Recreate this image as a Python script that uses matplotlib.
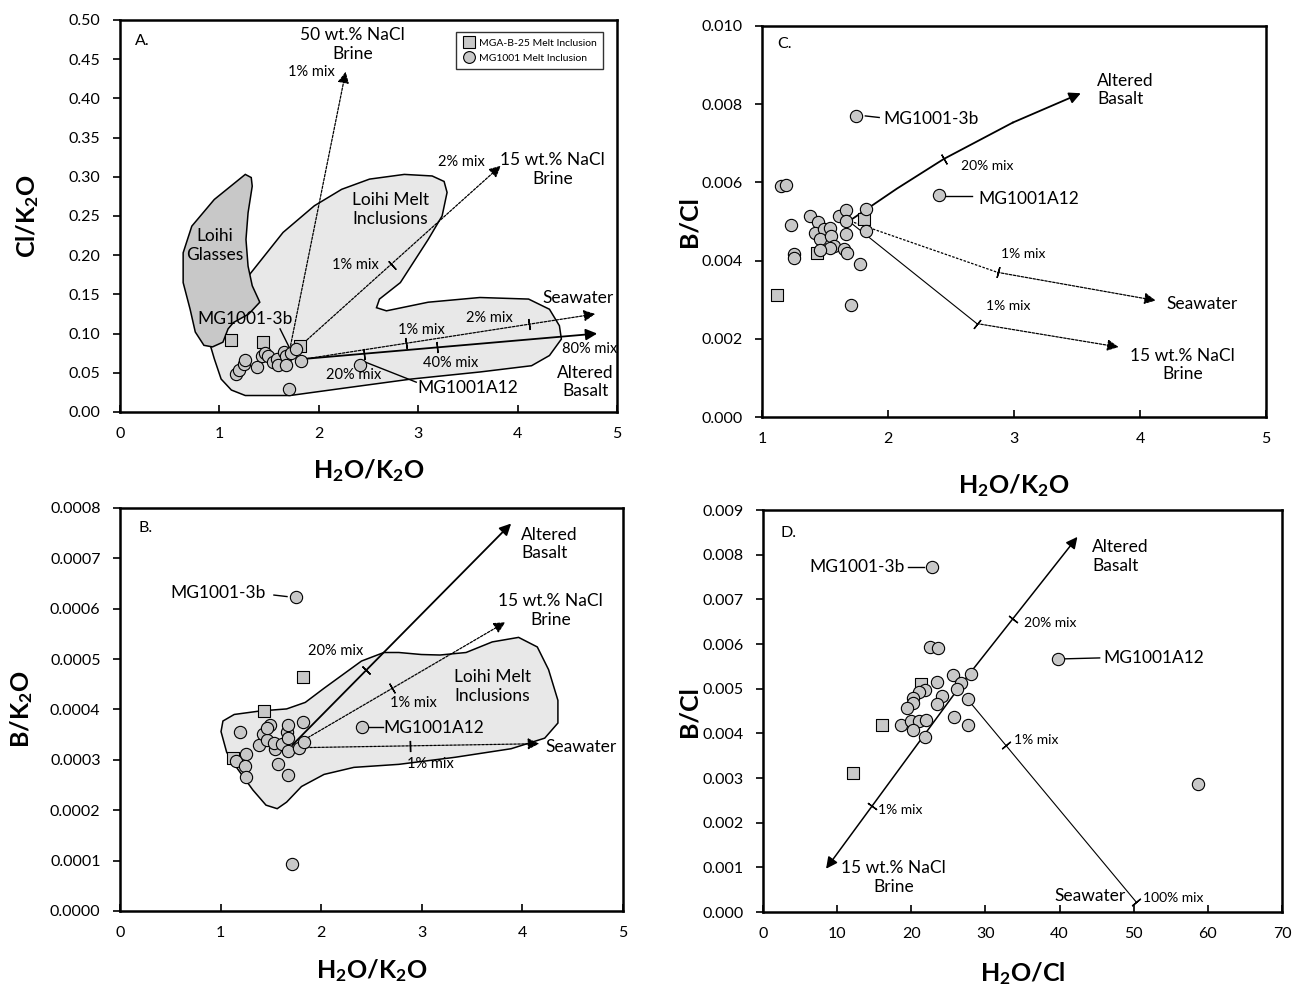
import math
import matplotlib
matplotlib.use("Agg")
import matplotlib.pyplot as plt
from matplotlib.patches import Polygon
from matplotlib.lines import Line2D

plt.rcParams['font.family'] = ['Lato', 'DejaVu Sans']
plt.rcParams['mathtext.default'] = 'regular'

# ---------------- panel A : Cl/K2O vs H2O/K2O ----------------
a_sq_x = [1.12, 1.435, 1.81]
a_sq_y = [0.092, 0.089, 0.084]
a_ci_x = [1.17, 1.20, 1.25, 1.26, 1.375, 1.425, 1.46, 1.49, 1.54, 1.58, 1.59,
          1.65, 1.67, 1.67, 1.72, 1.77, 1.82, 2.41, 1.70]
a_ci_y = [0.049, 0.053, 0.061, 0.066, 0.058, 0.071, 0.075, 0.072, 0.064, 0.068, 0.060,
          0.077, 0.071, 0.060, 0.075, 0.080, 0.065, 0.060, 0.029]
a_glass = [(1.26, 0.303), (0.948, 0.271), (0.722, 0.237), (0.635, 0.203), (0.635, 0.165),
           (0.705, 0.131), (0.757, 0.102), (0.844, 0.085), (0.93, 0.083), (1.035, 0.089),
           (1.087, 0.106), (1.14, 0.114), (1.295, 0.125), (1.406, 0.140), (1.33, 0.161),
           (1.288, 0.186), (1.267, 0.220), (1.288, 0.254), (1.33, 0.288), (1.32, 0.299)]
a_melt = [(0.913, 0.083), (0.948, 0.068), (1.017, 0.042), (1.12, 0.028), (1.26, 0.021),
          (1.71, 0.021), (2.23, 0.030), (2.93, 0.042), (3.62, 0.051), (4.14, 0.059),
          (4.32, 0.072), (4.44, 0.093), (4.42, 0.110), (4.32, 0.131), (4.11, 0.144),
          (3.62, 0.146), (3.10, 0.140), (2.68, 0.129), (2.58, 0.133), (2.61, 0.144),
          (2.82, 0.165), (3.10, 0.220), (3.24, 0.250), (3.29, 0.280), (3.26, 0.294),
          (3.14, 0.301), (2.86, 0.303), (2.51, 0.297), (2.23, 0.284), (1.955, 0.263),
          (1.64, 0.229), (1.295, 0.174), (1.19, 0.144), (0.98, 0.102)]
a_brine50 = ([1.70, 2.27], [0.075, 0.434])
a_brine15 = ([1.82, 3.83], [0.085, 0.314])
a_brine15_ticks = [(2.74, 0.188)]
a_sea = ([1.88, 4.78], [0.068, 0.125])
a_sea_ticks = [(2.875, 0.0877), (4.11, 0.1118)]
a_bas = ([1.88, 4.80], [0.068, 0.100])
a_bas_ticks = [(2.45, 0.0742), (3.19, 0.0824)]

# ---------------- panel C : B/Cl vs H2O/K2O ----------------
c_sq_x = [1.12, 1.44, 1.81]
c_sq_y = [0.00311, 0.0042, 0.00507]
c_ci_x = [1.744, 1.149, 1.193, 1.232, 1.253, 1.253, 1.378, 1.446, 1.417, 1.491, 1.461,
          1.536, 1.55, 1.571, 1.542, 1.461, 1.61, 1.67, 1.664, 1.67, 1.649, 1.676,
          1.78, 1.824, 1.824, 1.708, 2.405]
c_ci_y = [0.00771, 0.0059, 0.00593, 0.00491, 0.00418, 0.00407, 0.00515, 0.00498, 0.00471,
          0.0048, 0.00456, 0.00484, 0.00462, 0.00437, 0.00433, 0.00428, 0.00514, 0.00529,
          0.00501, 0.00467, 0.0043, 0.0042, 0.00392, 0.00532, 0.00477, 0.00286, 0.00567]
c_bas = ([1.70, 2.07, 2.443, 2.99, 3.53], [0.00503, 0.00584, 0.0066, 0.00753, 0.00828])
c_bas_ticks = [(2.443, 0.0066)]
c_sea = ([1.70, 2.869, 4.125], [0.00501, 0.0037, 0.00298])
c_sea_ticks = [(2.869, 0.0037)]
c_brine_a = ([1.70, 2.705], [0.00498, 0.00239])
c_brine_b = ([2.705, 3.83], [0.00239, 0.00179])
c_brine_ticks = [(2.705, 0.00239)]

# ---------------- panel B : B/K2O vs H2O/K2O ----------------
b_sq_x = [1.12, 1.436, 1.815]
b_sq_y = [0.000303, 0.000397, 0.000465]
b_ci_x = [1.749, 1.194, 1.15, 1.257, 1.239, 1.257, 1.384, 1.421, 1.462, 1.492, 1.458,
          1.544, 1.533, 1.611, 1.57, 1.655, 1.674, 1.667, 1.674, 1.778, 1.823, 1.83,
          1.674, 1.711, 2.41]
b_ci_y = [0.000624, 0.000355, 0.000297, 0.000311, 0.000287, 0.000266, 0.00033, 0.000351,
          0.000339, 0.000369, 0.000363, 0.000322, 0.000334, 0.000332, 0.000291, 0.000355,
          0.00037, 0.000317, 0.000344, 0.000324, 0.000375, 0.000336, 0.000269, 0.0000935,
          0.000365]
b_melt = [(1.023, 0.000377), (1.004, 0.000356), (1.06, 0.000315), (1.172, 0.000281),
          (1.321, 0.000240), (1.451, 0.000210), (1.5625, 0.000203), (1.656, 0.000216),
          (1.804, 0.000247), (2.028, 0.000271), (2.325, 0.000285), (2.772, 0.000291),
          (3.33, 0.000305), (3.888, 0.000322), (4.222, 0.000343), (4.353, 0.000373),
          (4.353, 0.000418), (4.26, 0.000479), (4.148, 0.000524), (3.962, 0.000543),
          (3.70, 0.000534), (3.44, 0.000513), (3.18, 0.000508), (2.995, 0.000509),
          (2.772, 0.000513), (2.623, 0.000513), (2.40, 0.000496), (2.214, 0.000469),
          (2.028, 0.000442), (1.842, 0.000414), (1.656, 0.000401), (1.395, 0.000397),
          (1.135, 0.000390)]
b_bas = ([1.711, 3.888], [0.000329, 0.000769])
b_bas_ticks = [(2.444, 0.000478)]
b_brine = ([1.73, 3.83], [0.000328, 0.000573])
b_brine_ticks = [(2.708, 0.000442)]
b_sea = ([1.767, 4.167], [0.000324, 0.000332])
b_sea_ticks = [(2.883, 0.000328)]

# ---------------- panel D : B/Cl vs H2O/Cl ----------------
d_sq_x = [12.1, 16.1, 21.3]
d_sq_y = [0.00311, 0.00419, 0.0051]
d_ci_x = [22.8, 22.5, 23.66, 25.58, 28.0, 26.7, 26.1, 27.7, 23.45, 21.9, 21.1, 20.2, 20.25,
          19.35, 24.16, 23.4, 18.6, 20.0, 21.0, 22.0, 20.26, 21.8, 25.7, 27.6, 39.8, 58.6]
d_ci_y = [0.00772, 0.00593, 0.00591, 0.0053, 0.00534, 0.00513, 0.00499, 0.00476, 0.00516,
          0.00498, 0.00493, 0.0048, 0.00469, 0.00457, 0.00484, 0.00466, 0.00418, 0.00427,
          0.00428, 0.00431, 0.00407, 0.00392, 0.00437, 0.00419, 0.00567, 0.00287]
d_bas = ([27.2, 42.4], [0.0052, 0.0084])
d_bas_ticks = [(33.7, 0.00657)]
d_brine = ([27.2, 8.5], [0.0052, 0.00097])
d_brine_ticks = [(14.7, 0.00237)]
d_sea = ([27.4, 50.35], [0.0048, 0.00022])
d_sea_ticks = [(32.7, 0.00373), (50.35, 0.00022)]

GREY = '#c8c8c8'
LIGHT = '#e8e8e8'
DOT = (0, (2, 1.2))


def frame(ax, xlim, ylim, yticks, yfmt, xticks):
    ax.set_xlim(*xlim)
    ax.set_ylim(*ylim)
    ax.set_yticks(yticks)
    ax.set_yticklabels([yfmt % v for v in yticks])
    ax.set_xticks(xticks)
    ax.set_xticklabels([str(v) for v in xticks])
    for s in ax.spines.values():
        s.set_linewidth(1.8)
    ax.tick_params(axis='y', direction='out', length=5, width=1.2, labelsize=11.5, pad=9)
    ax.tick_params(axis='x', direction='in', length=5, width=1.2, labelsize=11.5, pad=11)


def points(ax, sx, sy, cx, cy):
    ax.scatter(sx, sy, marker='s', s=80, facecolor=GREY, edgecolor='k', linewidth=0.8, zorder=4)
    ax.scatter(cx, cy, marker='o', s=78, facecolor=GREY, edgecolor='k', linewidth=0.8, zorder=5)


def arrow_line(ax, xs, ys, ls='-', lw=1.0, head=True):
    if head:
        if len(xs) > 2:
            ax.plot(xs[:-1], ys[:-1], color='k', ls=ls, lw=lw, zorder=3)
        ax.annotate('', xy=(xs[-1], ys[-1]), xytext=(xs[-2], ys[-2]), zorder=3,
                    arrowprops=dict(arrowstyle='-|>', color='k', lw=lw, ls=ls,
                                    mutation_scale=17, shrinkA=0, shrinkB=0))
    else:
        ax.plot(xs, ys, color='k', ls=ls, lw=lw, zorder=3)


def ticks_on(ax, line, marks):
    xs, ys = line
    p0 = ax.transData.transform((xs[0], ys[0]))
    p1 = ax.transData.transform((xs[-1], ys[-1]))
    ang = math.degrees(math.atan2(p1[1] - p0[1], p1[0] - p0[0]))
    for mx, my in marks:
        ax.plot([mx], [my], marker=(2, 2, ang), ms=8, mew=1.0, color='k', zorder=3)


def leader(ax, xs, ys):
    ax.plot(xs, ys, color='k', lw=1.0, zorder=3)


fig = plt.figure(figsize=(12.92, 9.92), dpi=100)
axA = fig.add_axes([0.0929, 0.5847, 0.3847, 0.3952])
axC = fig.add_axes([0.5898, 0.5796, 0.3901, 0.3942])
axB = fig.add_axes([0.0929, 0.0817, 0.3893, 0.4063])
axD = fig.add_axes([0.5906, 0.0806, 0.4017, 0.4052])

lab = dict(fontsize=18, fontweight='bold')
big = 12.5
small = 10.5
tiny = 10

# ---- A ----
frame(axA, (0, 5), (0, 0.5), [i * 0.05 for i in range(11)], '%.2f', [0, 1, 2, 3, 4, 5])
axA.add_patch(Polygon(a_melt, closed=True, facecolor=LIGHT, edgecolor='k', lw=1.1, zorder=1))
axA.add_patch(Polygon(a_glass, closed=True, facecolor=GREY, edgecolor='k', lw=1.1, zorder=1.5))
arrow_line(axA, *a_brine50, ls=DOT, lw=0.9)
arrow_line(axA, *a_brine15, ls=DOT, lw=0.9)
arrow_line(axA, *a_sea, ls=DOT, lw=0.9)
arrow_line(axA, *a_bas, ls='-', lw=1.3)
ticks_on(axA, a_brine15, a_brine15_ticks)
ticks_on(axA, a_sea, a_sea_ticks)
ticks_on(axA, a_bas, a_bas_ticks)
leader(axA, [2.46, 2.98], [0.064, 0.038])
leader(axA, [1.61, 1.70], [0.106, 0.083])
points(axA, a_sq_x, a_sq_y, a_ci_x, a_ci_y)
axA.text(0.15, 0.473, 'A.', fontsize=11.5, va='center')
axA.text(2.34, 0.469, '50 wt.% NaCl\nBrine', fontsize=big, ha='center', va='center', linespacing=1.2)
axA.text(1.92, 0.433, '1% mix', fontsize=small, ha='center', va='center')
axA.text(3.43, 0.319, '2% mix', fontsize=small, ha='center', va='center')
axA.text(4.35, 0.309, '15 wt.% NaCl\nBrine', fontsize=big, ha='center', va='center', linespacing=1.2)
axA.text(2.72, 0.258, 'Loihi Melt\nInclusions', fontsize=big, ha='center', va='center', linespacing=1.2)
axA.text(0.95, 0.212, 'Loihi\nGlasses', fontsize=big, ha='center', va='center', linespacing=1.2)
axA.text(2.37, 0.188, '1% mix', fontsize=small, ha='center', va='center')
axA.text(4.61, 0.145, 'Seawater', fontsize=big, ha='center', va='center')
axA.text(3.72, 0.120, '2% mix', fontsize=small, ha='center', va='center')
axA.text(3.03, 0.104, '1% mix', fontsize=small, ha='center', va='center')
axA.text(3.33, 0.063, '40% mix', fontsize=small, ha='center', va='center')
axA.text(2.35, 0.047, '20% mix', fontsize=small, ha='center', va='center')
axA.text(4.72, 0.080, '80% mix', fontsize=small, ha='center', va='center')
axA.text(4.68, 0.038, 'Altered\nBasalt', fontsize=big, ha='center', va='center', linespacing=1.2)
axA.text(3.5, 0.030, 'MG1001A12', fontsize=big, ha='center', va='center')
axA.text(1.26, 0.119, 'MG1001-3b', fontsize=big, ha='center', va='center')
hs = [Line2D([], [], marker='s', ls='', ms=8.5, mfc=GREY, mec='k', mew=0.8),
      Line2D([], [], marker='o', ls='', ms=8.5, mfc=GREY, mec='k', mew=0.8)]
leg = axA.legend(hs, ['MGA-B-25 Melt Inclusion', 'MG1001 Melt Inclusion'], loc='upper right',
                 bbox_to_anchor=(0.983, 0.982), fontsize=7.5, frameon=True, fancybox=False,
                 handletextpad=0.4, borderpad=0.6, labelspacing=0.55, handlelength=1.2)
leg.get_frame().set_edgecolor('k')
leg.get_frame().set_linewidth(1.0)
axA.set_ylabel('Cl/K$_2$O', **lab)
axA.set_xlabel('H$_2$O/K$_2$O', **lab)
axA.yaxis.set_label_coords(-0.16, 0.5)
axA.xaxis.set_label_coords(0.5, -0.115)

# ---- C ----
frame(axC, (1, 5), (0, 0.010), [i * 0.002 for i in range(6)], '%.3f', [1, 2, 3, 4, 5])
arrow_line(axC, *c_bas, ls='-', lw=1.3)
arrow_line(axC, *c_sea, ls=DOT, lw=0.9)
arrow_line(axC, *c_brine_a, ls='-', lw=0.8, head=False)
arrow_line(axC, *c_brine_b, ls=DOT, lw=0.9)
ticks_on(axC, ([2.07, 2.99], [0.00584, 0.00753]), c_bas_ticks)
ticks_on(axC, c_sea, c_sea_ticks)
ticks_on(axC, c_brine_a, c_brine_ticks)
leader(axC, [1.82, 1.93], [0.00770, 0.00766])
leader(axC, [2.46, 2.67], [0.00565, 0.00565])
points(axC, c_sq_x, c_sq_y, c_ci_x, c_ci_y)
axC.text(1.12, 0.00953, 'C.', fontsize=11.5, va='center')
axC.text(3.66, 0.00836, 'Altered\nBasalt', fontsize=big, ha='left', va='center', linespacing=1.2)
axC.text(1.96, 0.00762, 'MG1001-3b', fontsize=big, ha='left', va='center')
axC.text(2.786, 0.00642, '20% mix', fontsize=tiny, ha='center', va='center')
axC.text(2.717, 0.00558, 'MG1001A12', fontsize=big, ha='left', va='center')
axC.text(3.07, 0.00416, '1% mix', fontsize=tiny, ha='center', va='center')
axC.text(4.21, 0.0029, 'Seawater', fontsize=big, ha='left', va='center')
axC.text(2.95, 0.00283, '1% mix', fontsize=tiny, ha='center', va='center')
axC.text(4.34, 0.00133, '15 wt.% NaCl\nBrine', fontsize=big, ha='center', va='center', linespacing=1.2)
axC.set_ylabel('B/Cl', **lab)
axC.set_xlabel('H$_2$O/K$_2$O', **lab)
axC.yaxis.set_label_coords(-0.123, 0.5)
axC.xaxis.set_label_coords(0.5, -0.14)

# ---- B ----
frame(axB, (0, 5), (0, 0.0008), [i * 0.0001 for i in range(9)], '%.4f', [0, 1, 2, 3, 4, 5])
axB.add_patch(Polygon(b_melt, closed=True, facecolor=LIGHT, edgecolor='k', lw=1.1, zorder=1))
arrow_line(axB, *b_bas, ls='-', lw=1.3)
arrow_line(axB, *b_brine, ls=DOT, lw=0.9)
arrow_line(axB, *b_sea, ls=DOT, lw=0.9)
ticks_on(axB, b_bas, b_bas_ticks)
ticks_on(axB, b_brine, b_brine_ticks)
ticks_on(axB, b_sea, b_sea_ticks)
leader(axB, [1.53, 1.66], [0.000627, 0.000624])
leader(axB, [2.47, 2.61], [0.000365, 0.000365])
points(axB, b_sq_x, b_sq_y, b_ci_x, b_ci_y)
axB.text(0.18, 0.00076, 'B.', fontsize=11.5, va='center')
axB.text(3.99, 0.000728, 'Altered\nBasalt', fontsize=big, ha='left', va='center', linespacing=1.2)
axB.text(4.28, 0.000596, '15 wt.% NaCl\nBrine', fontsize=big, ha='center', va='center', linespacing=1.2)
axB.text(1.45, 0.000632, 'MG1001-3b', fontsize=big, ha='right', va='center')
axB.text(2.14, 0.000515, '20% mix', fontsize=small, ha='center', va='center')
axB.text(3.70, 0.000446, 'Loihi Melt\nInclusions', fontsize=big, ha='center', va='center', linespacing=1.2)
axB.text(2.92, 0.000412, '1% mix', fontsize=small, ha='center', va='center')
axB.text(2.62, 0.000363, 'MG1001A12', fontsize=big, ha='left', va='center')
axB.text(4.23, 0.000326, 'Seawater', fontsize=big, ha='left', va='center')
axB.text(3.09, 0.000291, '1% mix', fontsize=small, ha='center', va='center')
axB.set_ylabel('B/K$_2$O', **lab)
axB.set_xlabel('H$_2$O/K$_2$O', **lab)
axB.yaxis.set_label_coords(-0.17, 0.5)
axB.xaxis.set_label_coords(0.5, -0.114)

# ---- D ----
frame(axD, (0, 70), (0, 0.009), [i * 0.001 for i in range(10)], '%.3f', [0, 10, 20, 30, 40, 50, 60, 70])
arrow_line(axD, *d_bas, ls='-', lw=1.1)
arrow_line(axD, *d_brine, ls='-', lw=1.1)
arrow_line(axD, *d_sea, ls='-', lw=0.8, head=False)
ticks_on(axD, d_bas, d_bas_ticks)
ticks_on(axD, d_brine, d_brine_ticks)
ticks_on(axD, d_sea, d_sea_ticks)
leader(axD, [19.5, 21.7], [0.00772, 0.00772])
leader(axD, [40.8, 45.4], [0.00567, 0.00569])
points(axD, d_sq_x, d_sq_y, d_ci_x, d_ci_y)
axD.text(2.3, 0.00849, 'D.', fontsize=11.5, va='center')
axD.text(44.4, 0.00796, 'Altered\nBasalt', fontsize=big, ha='left', va='center', linespacing=1.2)
axD.text(19.1, 0.00772, 'MG1001-3b', fontsize=big, ha='right', va='center')
axD.text(35.2, 0.00647, '20% mix', fontsize=tiny, ha='left', va='center')
axD.text(45.9, 0.00569, 'MG1001A12', fontsize=big, ha='left', va='center')
axD.text(33.9, 0.00386, '1% mix', fontsize=tiny, ha='left', va='center')
axD.text(15.55, 0.00228, '1% mix', fontsize=tiny, ha='left', va='center')
axD.text(17.6, 0.00078, '15 wt.% NaCl\nBrine', fontsize=big, ha='center', va='center', linespacing=1.2)
axD.text(48.9, 0.00036, 'Seawater', fontsize=big, ha='right', va='center')
axD.text(51.3, 0.00032, '100% mix', fontsize=tiny, ha='left', va='center')
axD.set_ylabel('B/Cl', **lab)
axD.set_xlabel('H$_2$O/Cl', **lab)
axD.yaxis.set_label_coords(-0.121, 0.5)
axD.xaxis.set_label_coords(0.5, -0.119)

fig.savefig('out.png', dpi=100)
